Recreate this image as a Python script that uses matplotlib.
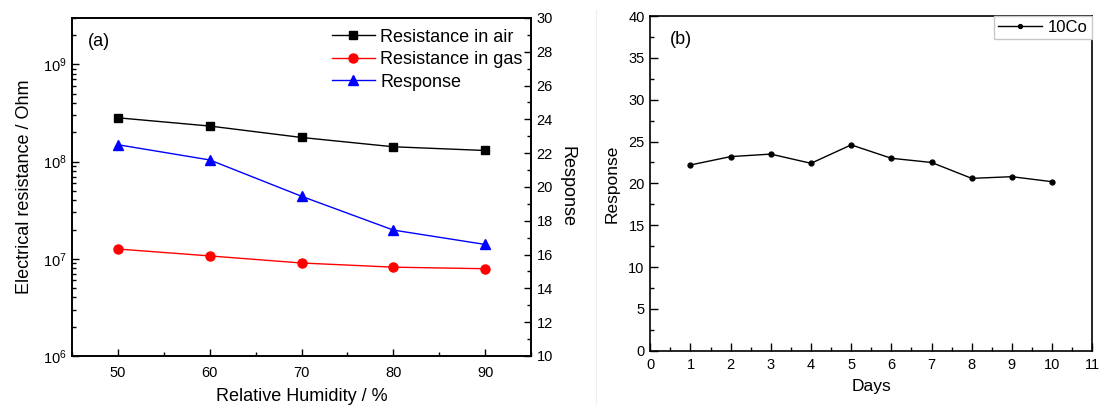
import matplotlib
matplotlib.use("Agg")
import matplotlib.pyplot as plt
from matplotlib.lines import Line2D
from matplotlib.ticker import MultipleLocator, LogLocator, NullFormatter

plt.rcParams['font.family'] = ['Liberation Sans', 'DejaVu Sans']
plt.rcParams['mathtext.fontset'] = 'custom'
plt.rcParams['mathtext.rm'] = 'Liberation Sans'
plt.rcParams['mathtext.it'] = 'Liberation Sans:italic'
plt.rcParams['mathtext.bf'] = 'Liberation Sans:bold'

# panel (a) data
humidity = [50, 60, 70, 80, 90]
res_air = [2.82e8, 2.32e8, 1.77e8, 1.42e8, 1.30e8]
res_gas = [1.26e7, 1.07e7, 9.05e6, 8.2e6, 7.9e6]
response_rh = [22.5, 21.6, 19.45, 17.45, 16.6]

# panel (b) data
days = [1, 2, 3, 4, 5, 6, 7, 8, 9, 10]
response_days = [22.2, 23.2, 23.5, 22.4, 24.6, 23.0, 22.5, 20.6, 20.8, 20.2]

fig = plt.figure(figsize=(11.15, 4.05), dpi=100)

# ---- (a) ----
ax = fig.add_axes([0.0646, 0.121, 0.4117, 0.8346])
ax2 = ax.twinx()
l1, = ax.plot(humidity, res_air, color='black', marker='s', ms=6, lw=1.0, label='Resistance in air')
l2, = ax.plot(humidity, res_gas, color='red', marker='o', ms=6.5, lw=1.0, label='Resistance in gas')
l3, = ax2.plot(humidity, response_rh, color='blue', marker='^', ms=7, lw=1.0, label='Response')

ax.set_yscale('log')
ax.set_ylim(1e6, 3e9)
ax.set_xlim(45, 95)
ax2.set_ylim(10, 30)
ax.xaxis.set_major_locator(MultipleLocator(10))
ax.xaxis.set_minor_locator(MultipleLocator(5))
ax.yaxis.set_major_locator(LogLocator(base=10, numticks=10))
ax.yaxis.set_minor_locator(LogLocator(base=10, subs=range(2, 10), numticks=10))
ax.yaxis.set_minor_formatter(NullFormatter())
ax2.yaxis.set_major_locator(MultipleLocator(2))
ax2.yaxis.set_minor_locator(MultipleLocator(1))

ax.tick_params(which='both', direction='in', labelsize=10.5, width=1.0)
ax.tick_params(which='major', length=5, pad=7)
ax.tick_params(which='minor', length=2.8)
ax.tick_params(axis='y', which='major', pad=4)
ax2.tick_params(which='both', direction='in', labelsize=10.5, width=1.0)
ax2.tick_params(which='major', length=5, pad=4)
ax2.tick_params(which='minor', length=2.8)
for a in (ax, ax2):
    for s in a.spines.values():
        s.set_linewidth(1.2)

ax.set_xlabel('Relative Humidity / %', fontsize=13, labelpad=6)
ax.set_ylabel('Electrical resistance / Ohm', fontsize=13, labelpad=7)
ax2.set_ylabel('Response', fontsize=13, rotation=270, labelpad=16)
ax.text(0.035, 0.955, '(a)', transform=ax.transAxes, fontsize=13, va='top', ha='left')
ax.legend(handles=[l1, l2, l3], loc='upper right', bbox_to_anchor=(0.99, 0.979),
          frameon=False, fontsize=13, handlelength=2.4, handletextpad=0.3,
          labelspacing=0.3, borderaxespad=0.0, borderpad=0.2)

# ---- (b) ----
bx = fig.add_axes([0.5832, 0.134, 0.3964, 0.8264])
bx.plot(days, response_days, color='black', marker='o', ms=3.5, lw=1.0, label='10Co')
bx.set_xlim(0, 11)
bx.set_ylim(0, 40)
bx.xaxis.set_major_locator(MultipleLocator(1))
bx.xaxis.set_minor_locator(MultipleLocator(0.5))
bx.yaxis.set_major_locator(MultipleLocator(5))
bx.yaxis.set_minor_locator(MultipleLocator(2.5))
bx.tick_params(which='both', direction='in', labelsize=10.5, width=1.0)
bx.tick_params(which='major', length=5.5)
bx.tick_params(which='minor', length=3)
bx.tick_params(axis='x', which='major', pad=5)
bx.tick_params(axis='y', which='major', pad=4)
for s in bx.spines.values():
    s.set_linewidth(1.2)
bx.set_xlabel('Days', fontsize=12.5, labelpad=5)
bx.set_ylabel('Response', fontsize=12.5, labelpad=6)
bx.text(0.045, 0.955, '(b)', transform=bx.transAxes, fontsize=13, va='top', ha='left')
leg = bx.legend(loc='upper right', fontsize=12, handlelength=2.6, handletextpad=0.4,
                borderaxespad=0.0, borderpad=0.25, fancybox=False, framealpha=1,
                markerscale=0.8)
leg.get_frame().set_edgecolor('#c8c8c8')
leg.get_frame().set_linewidth(1.0)

# faint panel separator
fig.add_artist(Line2D([596 / 1115, 596 / 1115], [0, 0.975], color='#eeeeee', lw=0.8))

fig.savefig('out.png', dpi=100)
